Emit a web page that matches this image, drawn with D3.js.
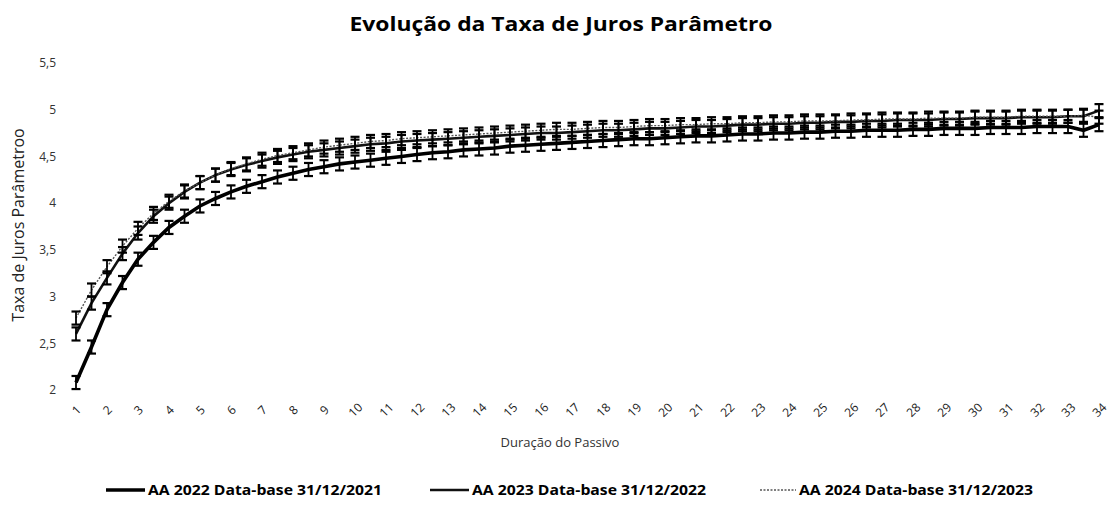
<!DOCTYPE html>
<html>
<head>
<meta charset="utf-8">
<script src="https://cdn.jsdelivr.net/npm/d3@7"></script>
<style>
  body { margin: 0; background: #fff; }
  svg { display: block; font-family: "Open Sans", sans-serif; }
</style>
</head>
<body>
<svg id="chart"></svg>
<script>
// durations (years), one point every half year
const duracoes = [1, 1.5, 2, 2.5, 3, 3.5, 4, 4.5, 5, 5.5, 6, 6.5, 7, 7.5, 8, 8.5, 9, 9.5, 10, 10.5,
  11, 11.5, 12, 12.5, 13, 13.5, 14, 14.5, 15, 15.5, 16, 16.5, 17, 17.5, 18, 18.5, 19, 19.5, 20, 20.5,
  21, 21.5, 22, 22.5, 23, 23.5, 24, 24.5, 25, 25.5, 26, 26.5, 27, 27.5, 28, 28.5, 29, 29.5, 30, 30.5,
  31, 31.5, 32, 32.5, 33, 33.5, 34];

const aa2022 = [2.08, 2.46, 2.86, 3.15, 3.40, 3.58, 3.74, 3.86, 3.97, 4.05, 4.12, 4.18, 4.23, 4.28, 4.32, 4.36, 4.39, 4.42, 4.44, 4.46,
  4.48, 4.50, 4.52, 4.54, 4.55, 4.57, 4.58, 4.59, 4.61, 4.62, 4.63, 4.64, 4.65, 4.66, 4.67, 4.68, 4.69, 4.69, 4.70, 4.71,
  4.72, 4.72, 4.73, 4.74, 4.74, 4.75, 4.75, 4.76, 4.76, 4.77, 4.77, 4.78, 4.78, 4.78, 4.79, 4.79, 4.80, 4.80, 4.80, 4.81,
  4.81, 4.81, 4.82, 4.82, 4.82, 4.78, 4.84];

const aa2023 = [2.60, 2.93, 3.20, 3.46, 3.68, 3.86, 4.00, 4.12, 4.22, 4.30, 4.36, 4.41, 4.45, 4.49, 4.52, 4.55, 4.57, 4.59, 4.61, 4.63,
  4.64, 4.66, 4.67, 4.68, 4.69, 4.70, 4.71, 4.72, 4.73, 4.74, 4.75, 4.75, 4.76, 4.77, 4.78, 4.78, 4.79, 4.80, 4.80, 4.81,
  4.82, 4.82, 4.83, 4.84, 4.84, 4.85, 4.85, 4.86, 4.86, 4.87, 4.87, 4.88, 4.88, 4.89, 4.89, 4.89, 4.90, 4.90, 4.91, 4.91,
  4.91, 4.92, 4.92, 4.92, 4.93, 4.93, 4.99];

const aa2024 = [2.77, 3.07, 3.32, 3.54, 3.73, 3.89, 4.02, 4.13, 4.22, 4.30, 4.37, 4.42, 4.47, 4.51, 4.54, 4.57, 4.60, 4.62, 4.64, 4.66,
  4.67, 4.69, 4.70, 4.71, 4.72, 4.73, 4.74, 4.75, 4.76, 4.77, 4.78, 4.79, 4.79, 4.80, 4.81, 4.81, 4.82, 4.83, 4.83, 4.84,
  4.84, 4.85, 4.85, 4.86, 4.86, 4.87, 4.87, 4.88, 4.88, 4.88, 4.89, 4.89, 4.90, 4.90, 4.90, 4.91, 4.91, 4.91, 4.92, 4.92,
  4.92, 4.93, 4.93, 4.93, 4.93, 4.94, 4.92];

const erro = 0.07; // error bar, +/- in percentage points

const xTickLabels = [1, 2, 3, 4, 5, 6, 7, 8, 9, 10, 11, 12, 13, 14, 15, 16, 17, 18, 19, 20,
  21, 22, 23, 24, 25, 26, 27, 28, 29, 30, 31, 32, 33, 34];
const yTicks = [2, 2.5, 3, 3.5, 4, 4.5, 5, 5.5];

const seriesNames = ["AA 2022 Data-base 31/12/2021", "AA 2023 Data-base 31/12/2022", "AA 2024 Data-base 31/12/2023"];

const width = 1115;
const height = 519;

const svg = d3.select("#chart").attr("width", width).attr("height", height);

const x = d3.scaleLinear().domain([1, 34]).range([76, 1099]);
const y = d3.scaleLinear().domain([2, 5.5]).range([390, 63]);

// series styles: thick black, medium black, thin dotted grey
const styles = [
  { stroke: "#000", width: 3.6, dash: null, legendLen: 39 },
  { stroke: "#111", width: 2.6, dash: null, legendLen: 39 },
  { stroke: "#555", width: 1.4, dash: "2,1.5", legendLen: 36 }
];
const series = [aa2022, aa2023, aa2024].map((vals, i) => ({
  name: seriesNames[i],
  style: styles[i],
  points: vals.map((v, j) => ({ d: duracoes[j], v: v }))
}));

// title
svg.append("text")
  .attr("x", 561).attr("y", 31)
  .attr("text-anchor", "middle")
  .attr("font-size", 19).attr("font-weight", "bold")
  .attr("textLength", 423).attr("lengthAdjust", "spacingAndGlyphs")
  .attr("fill", "#000")
  .text("Evolução da Taxa de Juros Parâmetro");

// y axis (labels only, no line)
const yAxis = d3.axisLeft(y).tickValues(yTicks).tickSize(0).tickPadding(0)
  .tickFormat(d => d3.format("~g")(d).replace(".", ","));
const gy = svg.append("g").attr("transform", "translate(56,0)").call(yAxis);
gy.select(".domain").remove();
gy.selectAll("text").attr("font-size", 12).attr("fill", "#333").attr("font-family", "Open Sans");

svg.append("text")
  .attr("transform", "translate(24,225) rotate(-90)")
  .attr("text-anchor", "middle")
  .attr("font-size", 16).attr("fill", "#222")
  .text("Taxa de Juros Parâmetroo");

// x axis, rotated labels
const xAxis = d3.axisBottom(x).tickValues(xTickLabels).tickSize(0).tickPadding(0);
const gx = svg.append("g").attr("transform", "translate(0,410)").call(xAxis);
gx.select(".domain").remove();
gx.selectAll("text")
  .attr("y", 0).attr("dy", "0.35em")
  .attr("text-anchor", "middle")
  .attr("transform", "rotate(-45)")
  .attr("font-size", 12).attr("fill", "#222").attr("font-family", "Open Sans");

svg.append("text")
  .attr("x", 560).attr("y", 447)
  .attr("text-anchor", "middle")
  .attr("font-size", 13).attr("fill", "#333")
  .text("Duração do Passivo");

// lines
const line = d3.line().x(p => x(p.d)).y(p => y(p.v));
svg.selectAll("path.serie")
  .data(series)
  .enter()
  .append("path")
  .attr("class", "serie")
  .attr("fill", "none")
  .attr("stroke", s => s.style.stroke)
  .attr("stroke-width", s => s.style.width)
  .attr("stroke-dasharray", s => s.style.dash)
  .attr("d", s => line(s.points));

// error bars
const capW = 4.5;
series.forEach(s => {
  const g = svg.append("g").attr("stroke", "#000");
  g.selectAll("line.bar").data(s.points).enter().append("line")
    .attr("x1", p => x(p.d)).attr("x2", p => x(p.d))
    .attr("y1", p => y(p.v - erro)).attr("y2", p => y(p.v + erro))
    .attr("stroke-width", 1.8);
  g.selectAll("line.top").data(s.points).enter().append("line")
    .attr("x1", p => x(p.d) - capW).attr("x2", p => x(p.d) + capW)
    .attr("y1", p => y(p.v + erro)).attr("y2", p => y(p.v + erro))
    .attr("stroke-width", 2.2);
  g.selectAll("line.bottom").data(s.points).enter().append("line")
    .attr("x1", p => x(p.d) - capW).attr("x2", p => x(p.d) + capW)
    .attr("y1", p => y(p.v - erro)).attr("y2", p => y(p.v - erro))
    .attr("stroke-width", 2.2);
});

// legend
const legendX = [106, 430, 760];
const legend = svg.selectAll("g.legend")
  .data(series)
  .enter()
  .append("g")
  .attr("class", "legend")
  .attr("transform", (s, i) => `translate(${legendX[i]},490)`);
legend.append("line")
  .attr("x1", 0).attr("x2", s => s.style.legendLen)
  .attr("stroke", s => s.style.stroke)
  .attr("stroke-width", s => s.style.width)
  .attr("stroke-dasharray", s => s.style.dash);
legend.append("text")
  .attr("x", s => s.style.legendLen + 3).attr("dy", "0.35em")
  .attr("font-size", 14).attr("font-weight", "bold")
  .attr("textLength", 234).attr("lengthAdjust", "spacingAndGlyphs")
  .text(s => s.name);
</script>
</body>
</html>
